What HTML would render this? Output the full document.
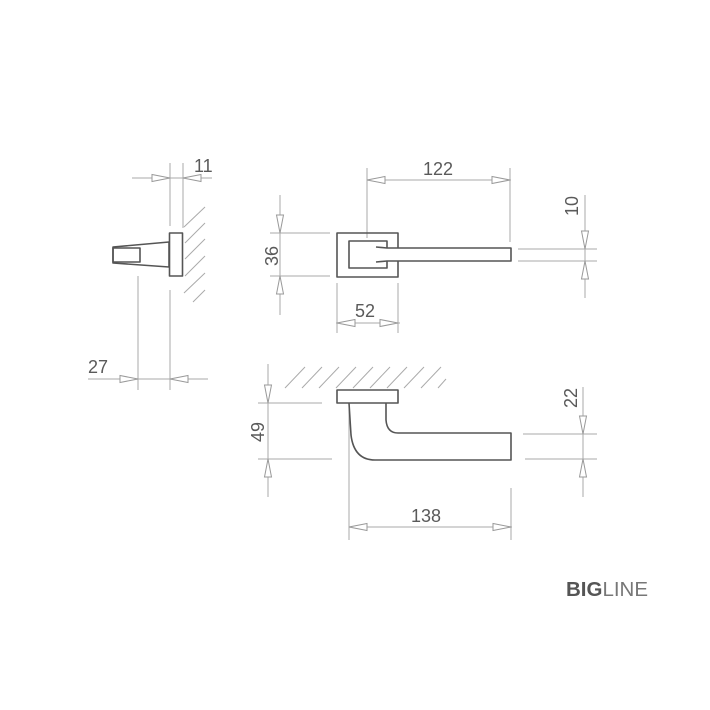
<!DOCTYPE html>
<html><head><style>
html,body{margin:0;padding:0;background:#fff;}
svg{display:block;}
text{font-family:"Liberation Sans",sans-serif;fill:#5a5a5a;font-size:18px;}
</style></head><body>
<svg width="710" height="710" viewBox="0 0 710 710" xmlns="http://www.w3.org/2000/svg">
<defs>
<g id="ar"><path d="M0,0 L-18,-3.5 L-18,3.5 Z" fill="#fff" stroke="#999" stroke-width="1"/></g>
</defs>
<g stroke="#aaa" stroke-width="1" fill="none">
<line x1="132" y1="178" x2="212" y2="178"/>
<line x1="170" y1="163" x2="170" y2="226"/>
<line x1="170" y1="290" x2="170" y2="390"/>
<line x1="183" y1="163" x2="183" y2="228"/>
<line x1="138" y1="276" x2="138" y2="390"/>
<line x1="88" y1="379" x2="208" y2="379"/>
<line x1="184" y1="227" x2="205" y2="207"/>
<line x1="185" y1="243" x2="205" y2="223"/>
<line x1="185" y1="259" x2="205" y2="239"/>
<line x1="185" y1="276" x2="205" y2="256"/>
<line x1="184" y1="293" x2="205" y2="273"/>
<line x1="193" y1="302" x2="205" y2="290"/>
<line x1="367" y1="168" x2="367" y2="238"/>
<line x1="510" y1="168" x2="510" y2="242"/>
<line x1="367" y1="180" x2="511" y2="180"/>
<line x1="280" y1="195" x2="280" y2="315"/>
<line x1="270" y1="233" x2="330" y2="233"/>
<line x1="270" y1="276" x2="330" y2="276"/>
<line x1="337" y1="283" x2="337" y2="333"/>
<line x1="398" y1="283" x2="398" y2="333"/>
<line x1="336" y1="323" x2="400" y2="323"/>
<line x1="585" y1="195" x2="585" y2="298"/>
<line x1="518" y1="249" x2="597" y2="249"/>
<line x1="518" y1="261" x2="597" y2="261"/>
<line x1="268" y1="364" x2="268" y2="497"/>
<line x1="258" y1="403" x2="322" y2="403"/>
<line x1="258" y1="459" x2="332" y2="459"/>
<line x1="583" y1="387" x2="583" y2="497"/>
<line x1="523" y1="434" x2="597" y2="434"/>
<line x1="525" y1="459" x2="597" y2="459"/>
<line x1="349" y1="405" x2="349" y2="540"/>
<line x1="511" y1="488" x2="511" y2="540"/>
<line x1="349" y1="527" x2="512" y2="527"/>
<line x1="285" y1="388" x2="305" y2="367"/>
<line x1="302" y1="388" x2="322" y2="367"/>
<line x1="319" y1="388" x2="339" y2="367"/>
<line x1="336" y1="388" x2="356" y2="367"/>
<line x1="353" y1="388" x2="373" y2="367"/>
<line x1="370" y1="388" x2="390" y2="367"/>
<line x1="387" y1="388" x2="407" y2="367"/>
<line x1="404" y1="388" x2="424" y2="367"/>
<line x1="421" y1="388" x2="441" y2="367"/>
<line x1="438" y1="388" x2="446" y2="379"/>
</g>
<use href="#ar" transform="translate(170,178)"/>
<use href="#ar" transform="translate(183,178) rotate(180)"/>
<use href="#ar" transform="translate(138,379)"/>
<use href="#ar" transform="translate(170,379) rotate(180)"/>
<use href="#ar" transform="translate(367,180) rotate(180)"/>
<use href="#ar" transform="translate(510,180)"/>
<use href="#ar" transform="translate(280,233) rotate(90)"/>
<use href="#ar" transform="translate(280,276) rotate(-90)"/>
<use href="#ar" transform="translate(337,323) rotate(180)"/>
<use href="#ar" transform="translate(398,323)"/>
<use href="#ar" transform="translate(585,249) rotate(90)"/>
<use href="#ar" transform="translate(585,261) rotate(-90)"/>
<use href="#ar" transform="translate(268,403) rotate(90)"/>
<use href="#ar" transform="translate(268,459) rotate(-90)"/>
<use href="#ar" transform="translate(583,434) rotate(90)"/>
<use href="#ar" transform="translate(583,459) rotate(-90)"/>
<use href="#ar" transform="translate(349,527) rotate(180)"/>
<use href="#ar" transform="translate(511,527)"/>
<g stroke="#555" stroke-width="1.6" fill="#fff" stroke-linejoin="round">
<path d="M113,247 L169,242 L169,267 L113,263 Z"/>
<rect x="113" y="248" width="27" height="14" fill="none"/>
<rect x="169.5" y="233" width="13" height="43"/>
<rect x="337" y="233" width="61" height="44" fill="none"/>
<rect x="349" y="241" width="38" height="27" fill="none"/>
<path d="M376,247 L387,248 L511,248 L511,261 L387,261 L376,262" fill="#fff"/>
<rect x="337" y="390" width="61" height="13" fill="none"/>
<path d="M349,403 L351,435 Q354,460 375,460 L511,460 L511,433 L398,433 Q387,433 386,420 L386,403" fill="none"/>
</g>
<text x="194" y="172">11</text>
<text x="88" y="373">27</text>
<text x="423" y="175">122</text>
<text x="355" y="317">52</text>
<text x="411" y="522">138</text>
<text transform="translate(278,256) rotate(-90)" text-anchor="middle">36</text>
<text transform="translate(578,206) rotate(-90)" text-anchor="middle">10</text>
<text transform="translate(264,432) rotate(-90)" text-anchor="middle">49</text>
<text transform="translate(577,398) rotate(-90)" text-anchor="middle">22</text>
<text x="566" y="596" style="font-size:20.5px;fill:#555"><tspan font-weight="bold">BIG</tspan><tspan fill="#777">LINE</tspan></text>
</svg>
</body></html>
